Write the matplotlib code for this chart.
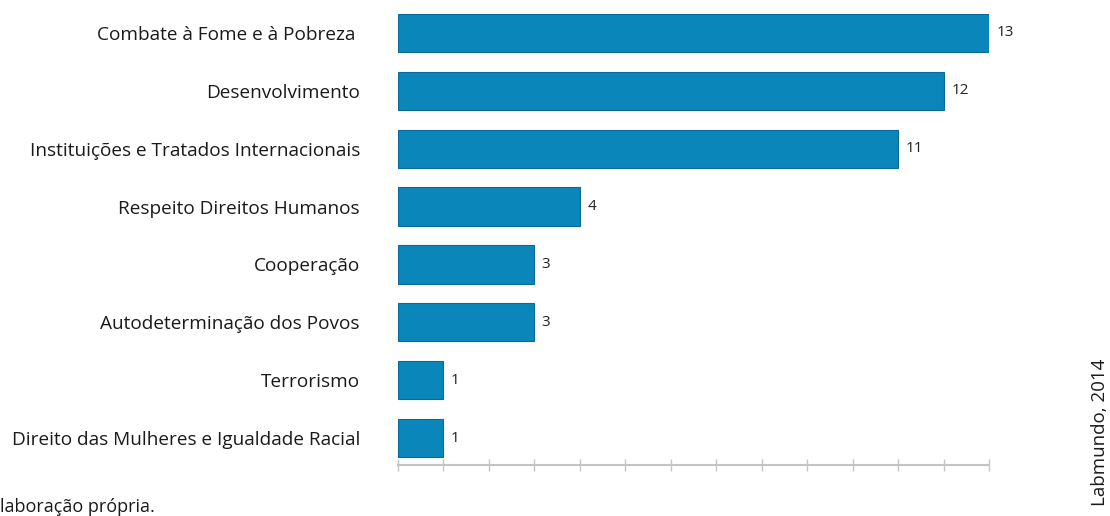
import numpy as np
import matplotlib
matplotlib.use("Agg")
from matplotlib import pyplot as plt

categories = [
    "Combate à Fome e à Pobreza ",
    "Desenvolvimento",
    "Instituições e Tratados Internacionais",
    "Respeito Direitos Humanos",
    "Cooperação",
    "Autodeterminação dos Povos",
    "Terrorismo",
    "Direito das Mulheres e Igualdade Racial",
]
values = [13, 12, 11, 4, 3, 3, 1, 1]
ticks = list(range(0, 14))

plt.rcParams['font.family'] = ['Open Sans', 'DejaVu Sans']

fig = plt.figure(figsize=(11.1, 5.16), dpi=100)
ax = fig.add_axes([397.5 / 1110, 51 / 516, 591.5 / 1110, 461 / 516])

ypos = np.arange(len(categories))[::-1]
ax.barh(ypos, values, height=0.66, color='#0a86ba', edgecolor='#0b6a96', linewidth=0.8)

for y, v in zip(ypos, values):
    ax.text(v + 0.17, y, str(v), va='center', ha='left', fontsize=11, color='#222222')

ax.set_yticks(ypos)
ax.set_yticklabels(categories, fontsize=13.7, color='#1a1a1a')
ax.tick_params(axis='y', length=0, pad=27)

ax.set_xticks(ticks)
ax.set_xticklabels([])
ax.tick_params(axis='x', direction='inout', length=9, width=1, color='#c4c4c4')

ax.set_xlim(0, 13)
ax.set_ylim(-0.466, 7.5)
for s in ['top', 'right', 'left']:
    ax.spines[s].set_visible(False)
ax.spines['bottom'].set_color('#c4c4c4')
ax.spines['bottom'].set_linewidth(1.5)

fig.text(0.0, 4 / 516, "laboração própria.", fontsize=13, color='#1a1a1a', ha='left', va='baseline')
fig.text(1100 / 1110, (516 - 432) / 516, "Labmundo, 2014", fontsize=13.5, rotation=90,
         ha='center', va='center', color='#1a1a1a')

fig.savefig("out.png", dpi=100)
